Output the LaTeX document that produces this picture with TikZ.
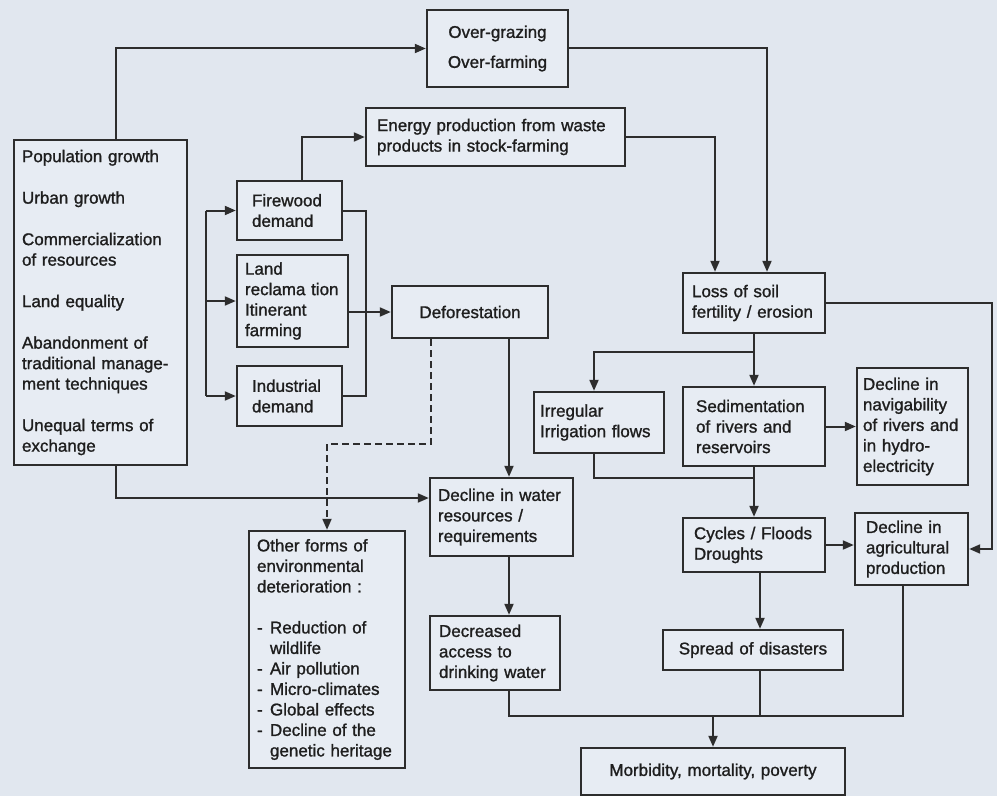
\documentclass[tikz,border=0pt]{standalone}
\usepackage{fontspec}
\setmainfont{Liberation Sans}[BoldFont={Liberation Sans},BoldFeatures={FakeBold=1.2}]
\usetikzlibrary{arrows.meta,calc}
\definecolor{bgc}{RGB}{225,231,239}
\definecolor{boxc}{RGB}{231,236,243}
\definecolor{linec}{RGB}{45,45,45}
\definecolor{txtc}{RGB}{30,30,30}
\newcommand\fs{\fontsize{17bp}{20.5bp}\selectfont\bfseries}
\newcommand\bul{\makebox[13bp][l]{-}}
\newcommand\ind{\hspace*{13bp}}
\tikzset{
  box/.style={draw=linec, line width=2.4bp, fill=boxc, inner ysep=0pt, font=\fs, text=txtc, align=left},
  cbox/.style={box, align=center},
  conn/.style={draw=linec, line width=2bp},
  arr/.style={conn, -{Triangle[length=11bp,width=9bp]}},
  dasharr/.style={arr, dash pattern=on 7bp off 4bp}
}
\begin{document}
\begin{tikzpicture}[x=1bp,y=-1bp]
\fill[bgc] (0,0) rectangle (997,796);
\useasboundingbox (0,0) rectangle (997,796);

% nodes
\node[box, minimum width=173bp, minimum height=325bp, text width=157bp, inner xsep=8bp] (pop) at (100.5,302.5)
 {Population~growth\\[21bp]Urban~growth\\[21bp]Commercialization\\of~resources\\[21bp]Land~equality\\[21bp]Abandonment~of\\traditional~manage-\\ment~techniques\\[21bp]Unequal~terms~of\\exchange};
\node[cbox, minimum width=141bp, minimum height=77bp, text width=121bp, inner xsep=10bp] (over) at (497.5,48.5)
 {Over-grazing\\[9.5bp]Over-farming};
\node[box, minimum width=259bp, minimum height=58bp, text width=237bp, inner xsep=11bp] (energy) at (495.5,137)
 {Energy~production~from~waste\\products~in~stock-farming};
\node[box, minimum width=105bp, minimum height=59bp, text width=75bp, inner xsep=15bp] (fire) at (289.5,210.5)
 {Firewood\\demand};
\node[box, minimum width=111bp, minimum height=92bp, text width=95bp, inner xsep=8bp] (land) at (292.5,301)
 {Land\\reclama~tion\\Itinerant\\farming};
\node[box, minimum width=105bp, minimum height=60bp, text width=75bp, inner xsep=15bp] (ind) at (289.5,396)
 {Industrial\\demand};
\node[cbox, minimum width=156bp, minimum height=52bp, text width=136bp, inner xsep=10bp] (defor) at (470,312)
 {Deforestation};
\node[box, minimum width=143bp, minimum height=78bp, text width=127bp, inner xsep=8bp] (water) at (501.5,517)
 {Decline~in~water\\resources~/\\requirements};
\node[box, minimum width=156bp, minimum height=237bp, text width=140bp, inner xsep=8bp] (other) at (327,649.5)
 {Other~forms~of\\environmental\\deterioration~:\\[20.5bp]\bul Reduction~of\\\ind wildlife\\\bul Air~pollution\\\bul Micro-climates\\\bul Global~effects\\\bul Decline~of~the\\\ind genetic~heritage};
\node[box, minimum width=130bp, minimum height=74bp, text width=112bp, inner xsep=9bp] (dec) at (495,653)
 {Decreased\\access~to\\drinking~water};
\node[cbox, minimum width=264bp, minimum height=47bp, text width=244bp, inner xsep=10bp] (morb) at (713,771.5)
 {Morbidity,~mortality,~poverty};
\node[cbox, minimum width=180bp, minimum height=40bp, text width=160bp, inner xsep=10bp] (spread) at (753,650)
 {Spread~of~disasters};
\node[box, minimum width=142bp, minimum height=54bp, text width=120bp, inner xsep=11bp] (cycles) at (754,545)
 {Cycles~/~Floods\\Droughts};
\node[box, minimum width=113bp, minimum height=72bp, text width=91bp, inner xsep=11bp] (agri) at (911.5,549)
 {Decline~in\\agricultural\\production};
\node[box, minimum width=142bp, minimum height=60bp, text width=124bp, inner xsep=9bp] (loss) at (754,303)
 {Loss~of~soil\\fertility~/~erosion};
\node[box, minimum width=130bp, minimum height=61bp, text width=118bp, inner xsep=6bp] (irr) at (599,422.5)
 {Irregular\\Irrigation~flows};
\node[box, minimum width=142bp, minimum height=79bp, text width=116bp, inner xsep=13bp] (sed) at (754,426.5)
 {Sedimentation\\of~rivers~and\\reservoirs};
\node[box, minimum width=111bp, minimum height=117bp, text width=99bp, inner xsep=6bp] (nav) at (912.5,426.5)
 {Decline~in\\navigability\\of~rivers~and\\in~hydro-\\electricity};

% routing coordinates
\coordinate (cA) at (116,0);
\coordinate (cB) at (767,0);
\coordinate (cC) at (715,0);
\coordinate (cD) at (302,0);
\coordinate (bk) at (206,0);
\coordinate (cE) at (366,0);
\coordinate (cF) at (509,0);
\coordinate (cG) at (431,0);
\coordinate (dk) at (327,444);
\coordinate (pw) at (116,498);
\coordinate (jn) at (713,716);
\coordinate (cI) at (760,0);
\coordinate (cJ) at (903,0);
\coordinate (lr) at (992,0);
\coordinate (br) at (754,352);
\coordinate (cK) at (594,0);
\coordinate (ic) at (754,478);

% connectors
\draw[arr] (pop.north -| cA) |- (over.west);
\draw[arr] (over.east) -| (loss.north -| cB);
\draw[arr] (energy.east) -| (loss.north -| cC);
\draw[arr] (fire.north -| cD) |- (energy.west);
\draw[conn] (fire.west -| bk) -- (ind.west -| bk);
\draw[arr] (fire.west -| bk) -- (fire.west);
\draw[arr] (land.west -| bk) -- (land.west);
\draw[arr] (ind.west -| bk) -- (ind.west);
\draw[conn] (fire.east) -| (cE |- ind.east) -- (ind.east);
\draw[arr] (land.east |- defor.west) -- (defor.west);
\draw[arr] (defor.south -| cF) -- (water.north -| cF);
\draw[dasharr] (defor.south -| cG) |- (dk) -- (other.north -| dk);
\draw[arr] (pop.south -| cA) -- (pw) -- (water.west |- pw);
\draw[arr] (water.south -| cF) -- (dec.north -| cF);
\draw[conn] (dec.south -| cF) |- (jn);
\draw[conn] (spread.south -| cI) |- (jn);
\draw[conn] (agri.south -| cJ) |- (jn);
\draw[arr] (jn) -- (morb.north -| jn);
\draw[arr] (cycles.south -| cI) -- (spread.north -| cI);
\draw[arr] (cycles.east) -- (cycles.east -| agri.west);
\draw[arr] (loss.east) -- (loss.east -| lr) |- (agri.east);
\draw[arr] (loss.south) -- (sed.north);
\draw[arr] (br) -| (irr.north -| cK);
\draw[conn] (irr.south -| cK) |- (ic);
\draw[arr] (sed.south) -- (cycles.north);
\draw[arr] (sed.east) -- (sed.east -| nav.west);
\end{tikzpicture}
\end{document}
